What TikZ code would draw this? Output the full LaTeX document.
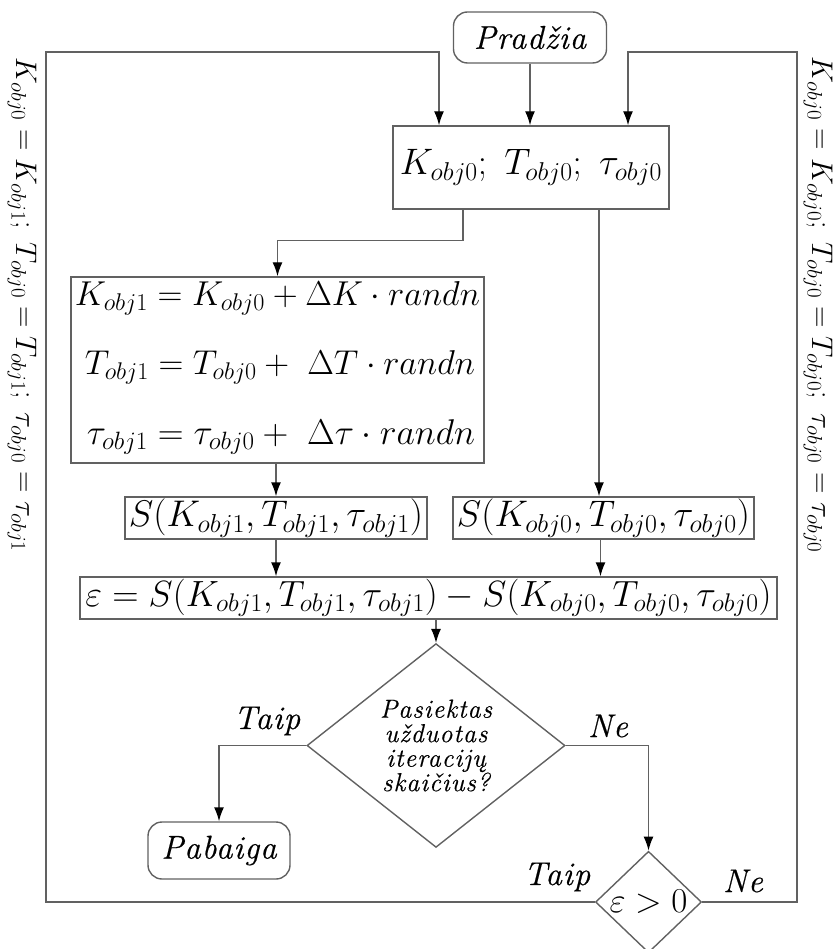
\RequirePackage{fix-cm}
\documentclass[tikz,border=0pt]{standalone}
\usepackage{graphicx}
\usepackage{fontspec}
\newfontfamily\labfont[LetterSpace=3,FakeBold=0.5]{Latin Modern Roman}
\newfontfamily\dlabfont[LetterSpace=4,FakeBold=0.5]{Latin Modern Roman}
\newcommand\fitw[2]{\resizebox{#1}{!}{#2}}
\usetikzlibrary{arrows.meta,shapes.geometric,calc}
\begin{document}
\begin{tikzpicture}[x=1pt,y=-1pt,
  line/.style={draw=black!62, line width=1.4pt},
  arr/.style={line, -{Latex[length=14pt,width=10pt,color=black]}},
  box/.style={draw=black!62, line width=1.4pt, rectangle, inner sep=0pt},
  term/.style={box, rounded corners=14pt},
  mth/.style={font=\fontsize{30}{36}\selectfont},
  rot/.style={font=\fontsize{30}{36}\selectfont, rotate=-90},
  tlab/.style={font=\labfont\itshape\fontsize{33}{38}\selectfont},
  lab/.style={font=\labfont\itshape\fontsize{33}{38}\selectfont},
  dlab/.style={font=\dlabfont\itshape\fontsize{26}{24.5}\selectfont},
]
\useasboundingbox (0,0) rectangle (835,949);

% nodes
\node[term, tlab, minimum width=153pt, minimum height=51pt] (start) at (530,37.5) {Pradžia};
\node[box, mth, minimum width=276pt, minimum height=83pt] (init) at (531,167.5)
  {\fitw{262pt}{$K_{obj0};\ T_{obj0};\ \tau_{obj0}$}};
\node[box, minimum width=413pt, minimum height=186pt] (upd) at (277.5,370) {};
\node[mth] (u1) at (277.5,298) {\fitw{405pt}{$K_{obj1} = K_{obj0} + \Delta K\cdot randn$}};
\node[mth] (u2) at (280,367) {\fitw{390pt}{$T_{obj1} = T_{obj0} +\ \Delta T\cdot randn$}};
\node[mth] (u3) at (281,437) {\fitw{388pt}{$\tau_{obj1} = \tau_{obj0} +\ \Delta\tau\cdot randn$}};
\node[box, mth, minimum width=302pt, minimum height=42pt] (s1) at (276,518)
  {\fitw{294pt}{$S(K_{obj1},T_{obj1},\tau_{obj1})$}};
\node[box, mth, minimum width=301pt, minimum height=42pt] (s0) at (603.5,518)
  {\fitw{293pt}{$S(K_{obj0},T_{obj0},\tau_{obj0})$}};
\node[box, mth, minimum width=697pt, minimum height=42pt] (eps) at (428.5,598)
  {\fitw{686pt}{$\varepsilon = S(K_{obj1},T_{obj1},\tau_{obj1}) - S(K_{obj0},T_{obj0},\tau_{obj0})$}};
\node[diamond, draw=black!62, line width=1.4pt, inner sep=0pt, minimum width=258pt,
  minimum height=175pt, align=center, dlab] (dia) at (436,745.5)
  {Pasiektas\\užduotas\\iteracijų\\skaičius?};
\node[term, tlab, minimum width=142pt, minimum height=57pt] (end) at (219,850.5) {Pabaiga};
\node[diamond, draw=black!62, line width=1.4pt, inner sep=0pt, minimum width=106pt,
  minimum height=100pt, mth] (dia2) at (648.5,902) {\fitw{78pt}{$\varepsilon > 0$}};

% side texts
\node[rot] (lt) at (22,305) {\fitw{494pt}{$K_{obj0} = K_{obj1};\ T_{obj0} = T_{obj1};\ \tau_{obj0} = \tau_{obj1}$}};
\node[rot] (rt) at (818,305) {\fitw{496pt}{$K_{obj0} = K_{obj0};\ T_{obj0} = T_{obj0};\ \tau_{obj0} = \tau_{obj0}$}};

% labels
\node[lab] (ty1) at (267,721) {Taip};
\node[lab] (ne1) at (608,726) {Ne};
\node[lab] (ty2) at (557,877) {Taip};
\node[lab] (ne2) at (743,881) {Ne};

% loop corners
\coordinate (L) at (46,52);
\coordinate (R) at (797,52);

% connectors
\draw[arr] (start.south) -- (start.south |- init.north);
\draw[arr] (dia2.west) -| (L) -| ([xshift=-92pt]init.north);
\draw[arr] (dia2.east) -| (R) -| ([xshift=97pt]init.north);
\draw[arr] ([xshift=-68pt]init.south) -- ([xshift=-68pt,yshift=-31pt]init.south) -| (upd.north);
\draw[arr] ([xshift=68pt]init.south) -- ([xshift=68pt]init.south |- s0.north);
\draw[arr] (s1.north |- upd.south) -- (s1.north);
\draw[arr] (s1.south) -- (s1.south |- eps.north);
\draw[arr] ([xshift=-3pt]s0.south) -- ([xshift=-3pt]s0.south |- eps.north);
\draw[arr] (dia.north |- eps.south) -- (dia.north);
\draw[arr] (dia.west) -| (end.north);
\draw[arr] (dia.east) -| (dia2.north);
\end{tikzpicture}
\end{document}
